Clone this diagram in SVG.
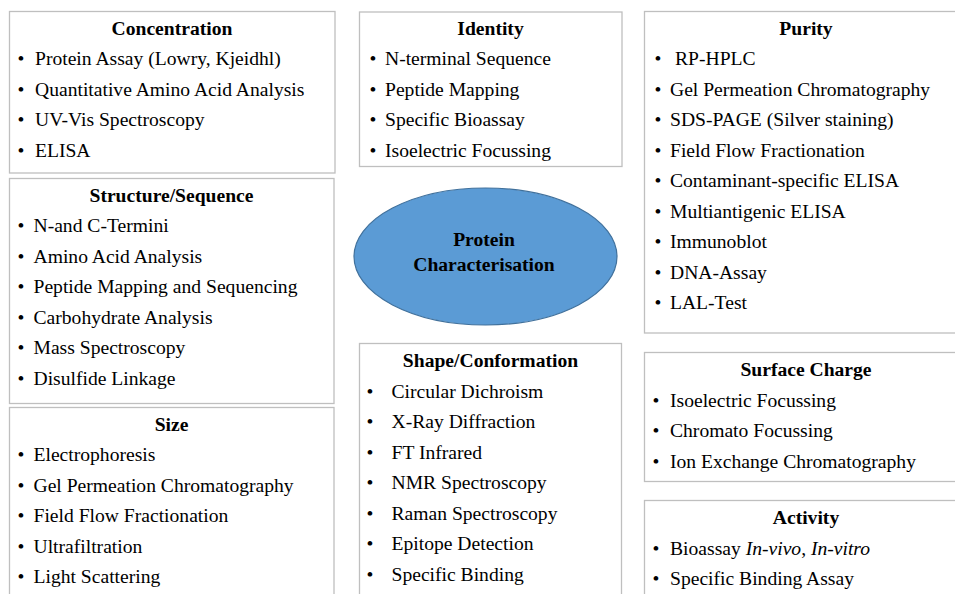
<svg xmlns="http://www.w3.org/2000/svg" width="955" height="594" viewBox="0 0 955 594" font-family="'Liberation Serif', 'Times New Roman', serif">
<style>
text{font-family:"Liberation Serif","Times New Roman",serif;font-size:19.6px;fill:#000}
.t{font-weight:bold;text-anchor:middle}
.b{text-anchor:middle}
.box{fill:#fff;stroke:#bfbfbf;stroke-width:1.3}
.el{fill:#5b9bd5;stroke:#41719c;stroke-width:1.2}
</style>
<rect width="955" height="594" fill="#fff"/>
<g id="connectors"></g>
<g id="concentration">
<rect class="box" x="9.5" y="11.5" width="325.5" height="161.5"/>
<text class="t" x="172" y="34.5">Concentration</text>
<text class="b" x="21" y="65">•</text><text x="35" y="65">Protein Assay (Lowry, Kjeidhl)</text>
<text class="b" x="21" y="95.5">•</text><text x="35" y="95.5">Quantitative Amino Acid Analysis</text>
<text class="b" x="21" y="126">•</text><text x="35" y="126">UV-Vis Spectroscopy</text>
<text class="b" x="21" y="156.5">•</text><text x="35" y="156.5">ELISA</text>
</g>
<g id="structure">
<rect class="box" x="9.5" y="178.5" width="324.5" height="225"/>
<text class="t" x="171.5" y="201.5">Structure/Sequence</text>
<text class="b" x="21" y="232">•</text><text x="33.5" y="232">N-and C-Termini</text>
<text class="b" x="21" y="263">•</text><text x="33.5" y="263">Amino Acid Analysis</text>
<text class="b" x="21" y="293">•</text><text x="33.5" y="293">Peptide Mapping and Sequencing</text>
<text class="b" x="21" y="324">•</text><text x="33.5" y="324">Carbohydrate Analysis</text>
<text class="b" x="21" y="354">•</text><text x="33.5" y="354">Mass Spectroscopy</text>
<text class="b" x="21" y="384.5">•</text><text x="33.5" y="384.5">Disulfide Linkage</text>
</g>
<g id="size">
<rect class="box" x="9.5" y="407.5" width="324.5" height="200"/>
<text class="t" x="171.5" y="430.5">Size</text>
<text class="b" x="21" y="461">•</text><text x="33.5" y="461">Electrophoresis</text>
<text class="b" x="21" y="491.5">•</text><text x="33.5" y="491.5">Gel Permeation Chromatography</text>
<text class="b" x="21" y="522">•</text><text x="33.5" y="522">Field Flow Fractionation</text>
<text class="b" x="21" y="552.5">•</text><text x="33.5" y="552.5">Ultrafiltration</text>
<text class="b" x="21" y="583">•</text><text x="33.5" y="583">Light Scattering</text>
</g>
<g id="identity">
<rect class="box" x="359.5" y="12" width="262.5" height="154.5"/>
<text class="t" x="490.5" y="34.5">Identity</text>
<text class="b" x="373" y="65">•</text><text x="385" y="65">N-terminal Sequence</text>
<text class="b" x="373" y="95.5">•</text><text x="385" y="95.5">Peptide Mapping</text>
<text class="b" x="373" y="126">•</text><text x="385" y="126">Specific Bioassay</text>
<text class="b" x="373" y="156.5">•</text><text x="385" y="156.5">Isoelectric Focussing</text>
</g>
<g id="protein-characterisation">
<ellipse class="el" cx="485.5" cy="256.5" rx="131.5" ry="68.5"/>
<text class="t" x="484" y="245.5">Protein</text>
<text class="t" x="484" y="270.5">Characterisation</text>
</g>
<g id="shape">
<rect class="box" x="359.5" y="343.5" width="262" height="270"/>
<text class="t" x="490.5" y="366.5">Shape/Conformation</text>
<text class="b" x="370" y="397.5">•</text><text x="391.5" y="397.5">Circular Dichroism</text>
<text class="b" x="370" y="428">•</text><text x="391.5" y="428">X-Ray Diffraction</text>
<text class="b" x="370" y="458.5">•</text><text x="391.5" y="458.5">FT Infrared</text>
<text class="b" x="370" y="489">•</text><text x="391.5" y="489">NMR Spectroscopy</text>
<text class="b" x="370" y="519.5">•</text><text x="391.5" y="519.5">Raman Spectroscopy</text>
<text class="b" x="370" y="550">•</text><text x="391.5" y="550">Epitope Detection</text>
<text class="b" x="370" y="580.5">•</text><text x="391.5" y="580.5">Specific Binding</text>
</g>
<g id="purity">
<rect class="box" x="644.5" y="11.5" width="324" height="321.5"/>
<text class="t" x="806" y="34.5">Purity</text>
<text class="b" x="658" y="65">•</text><text x="675" y="65">RP-HPLC</text>
<text class="b" x="658" y="95.5">•</text><text x="670" y="95.5">Gel Permeation Chromatography</text>
<text class="b" x="658" y="126">•</text><text x="670" y="126">SDS-PAGE (Silver staining)</text>
<text class="b" x="658" y="156.5">•</text><text x="670" y="156.5">Field Flow Fractionation</text>
<text class="b" x="658" y="187">•</text><text x="670" y="187">Contaminant-specific ELISA</text>
<text class="b" x="658" y="217.5">•</text><text x="670" y="217.5">Multiantigenic ELISA</text>
<text class="b" x="658" y="248">•</text><text x="670" y="248">Immunoblot</text>
<text class="b" x="658" y="278.5">•</text><text x="670" y="278.5">DNA-Assay</text>
<text class="b" x="658" y="309">•</text><text x="670" y="309">LAL-Test</text>
</g>
<g id="surface-charge">
<rect class="box" x="644.5" y="352.5" width="324" height="129"/>
<text class="t" x="806" y="375.5">Surface Charge</text>
<text class="b" x="656" y="406.5">•</text><text x="670" y="406.5">Isoelectric Focussing</text>
<text class="b" x="656" y="437">•</text><text x="670" y="437">Chromato Focussing</text>
<text class="b" x="656" y="467.5">•</text><text x="670" y="467.5">Ion Exchange Chromatography</text>
</g>
<g id="activity">
<rect class="box" x="644.5" y="500.5" width="324" height="120"/>
<text class="t" x="806" y="523.5">Activity</text>
<text class="b" x="656" y="554.5">•</text><text x="670" y="554.5">Bioassay <tspan font-style="italic">In-vivo</tspan>, <tspan font-style="italic">In-vitro</tspan></text>
<text class="b" x="656" y="584.5">•</text><text x="670" y="584.5">Specific Binding Assay</text>
</g>
</svg>
